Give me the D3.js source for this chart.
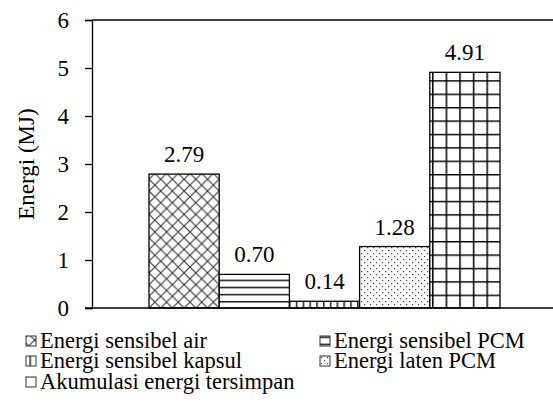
<!DOCTYPE html>
<html>
<head>
<meta charset="utf-8">
<script src="https://cdn.jsdelivr.net/npm/d3@7"></script>
<style>
  body { margin: 0; background: #fff; }
</style>
</head>
<body>
<div id="here"></div>
<script>
// DATA
const series = ["Energi sensibel air", "Energi sensibel PCM", "Energi sensibel kapsul", "Energi laten PCM", "Akumulasi energi tersimpan"];
const values = [2.79, 0.70, 0.14, 1.28, 4.91];
const labels = ["2.79", "0.70", "0.14", "1.28", "4.91"];
const yTicks = [0, 1, 2, 3, 4, 5, 6];
const patternIds = ["pDiamond", "pHoriz", "pVert", "pDots", "pGrid"];

const width = 553, height = 408;
const FONT = "'Liberation Serif'";

const svg = d3.select("#here").append("svg")
  .attr("width", width)
  .attr("height", height);

// Patterns
const defs = svg.append("defs");

let p = defs.append("pattern").attr("id", "pDiamond")
  .attr("patternUnits", "userSpaceOnUse").attr("width", 11.7).attr("height", 11.7)
  .attr("x", 149).attr("y", 308);
p.append("rect").attr("width", 11.7).attr("height", 11.7).attr("fill", "#fff");
p.append("path").attr("d", "M0,0L11.7,11.7M11.7,0L0,11.7")
  .attr("stroke", "#333").attr("stroke-width", 1.1);

p = defs.append("pattern").attr("id", "pHoriz")
  .attr("patternUnits", "userSpaceOnUse").attr("width", 8).attr("height", 7.1)
  .attr("y", 308);
p.append("rect").attr("width", 8).attr("height", 7.1).attr("fill", "#fff");
p.append("line").attr("x1", 0).attr("x2", 8).attr("y1", 0.8).attr("y2", 0.8)
  .attr("stroke", "#000").attr("stroke-width", 1.4);

p = defs.append("pattern").attr("id", "pVert")
  .attr("patternUnits", "userSpaceOnUse").attr("width", 6.8).attr("height", 8)
  .attr("x", 289);
p.append("rect").attr("width", 6.8).attr("height", 8).attr("fill", "#fff");
p.append("line").attr("x1", 0.8).attr("x2", 0.8).attr("y1", 0).attr("y2", 8)
  .attr("stroke", "#000").attr("stroke-width", 1.3);

p = defs.append("pattern").attr("id", "pDots")
  .attr("patternUnits", "userSpaceOnUse").attr("width", 6).attr("height", 6);
p.append("rect").attr("width", 6).attr("height", 6).attr("fill", "#fff");
p.append("rect").attr("x", 1).attr("y", 1).attr("width", 1.2).attr("height", 1.2).attr("fill", "#444");
p.append("rect").attr("x", 4).attr("y", 4).attr("width", 1.2).attr("height", 1.2).attr("fill", "#444");

p = defs.append("pattern").attr("id", "pGrid")
  .attr("patternUnits", "userSpaceOnUse").attr("width", 13.6).attr("height", 13.4)
  .attr("x", 432).attr("y", 308);
p.append("rect").attr("width", 13.6).attr("height", 13.4).attr("fill", "#fff");
p.append("path").attr("d", "M0.8,0V13.4M0,0.8H13.6")
  .attr("stroke", "#000").attr("stroke-width", 1.5);

// Scales
const y = d3.scaleLinear().domain([0, 6]).range([308, 20]);
const x = d3.scaleBand().domain(series).range([92, 557])
  .paddingInner(0).paddingOuter(0.812);

// Frame top line
svg.append("line")
  .attr("x1", 92).attr("x2", width)
  .attr("y1", y(6)).attr("y2", y(6))
  .attr("stroke", "#000").attr("stroke-width", 1.3);

// Bars
svg.selectAll("rect.bar")
  .data(values)
  .enter()
  .append("rect")
  .attr("class", "bar")
  .attr("x", function(d, i) { return x(series[i]); })
  .attr("y", function(d) { return y(d); })
  .attr("width", x.bandwidth())
  .attr("height", function(d) { return y(0) - y(d); })
  .attr("fill", function(d, i) { return "url(#" + patternIds[i] + ")"; })
  .attr("stroke", "#000")
  .attr("stroke-width", 1.3);

// Value labels
svg.selectAll("text.val")
  .data(values)
  .enter()
  .append("text")
  .attr("class", "val")
  .attr("x", function(d, i) { return x(series[i]) + x.bandwidth() / 2; })
  .attr("y", function(d) { return y(d) - 12; })
  .attr("text-anchor", "middle")
  .style("font-family", FONT)
  .style("font-size", "23px")
  .text(function(d, i) { return labels[i]; });

// Y axis
const yAxis = svg.append("g")
  .attr("transform", "translate(92,0)")
  .call(d3.axisLeft(y).tickValues(yTicks).tickSize(7).tickPadding(16).tickFormat(d3.format("d")));
yAxis.select(".domain").attr("stroke", "#000").attr("stroke-width", 1.3);
yAxis.selectAll(".tick line").attr("stroke", "#000").attr("stroke-width", 1.3);
yAxis.selectAll(".tick text")
  .style("font-family", FONT)
  .style("font-size", "23px")
  .attr("fill", "#000")
  .attr("dy", "0.34em");

// X axis line
svg.append("line")
  .attr("x1", 85).attr("x2", width)
  .attr("y1", y(0)).attr("y2", y(0))
  .attr("stroke", "#000").attr("stroke-width", 1.3);

// Y axis label
svg.append("text")
  .attr("transform", "translate(34," + ((y(0) + y(6)) / 2) + ") rotate(-90)")
  .attr("text-anchor", "middle")
  .style("font-family", FONT)
  .style("font-size", "23px")
  .text("Energi (MJ)");

// Legend
const legendPos = [[26, 348], [320, 348], [26, 368], [320, 368], [26, 389]];
const legend = svg.selectAll("g.legend")
  .data(series)
  .enter()
  .append("g")
  .attr("class", "legend")
  .attr("transform", function(d, i) { return "translate(" + legendPos[i][0] + "," + legendPos[i][1] + ")"; });

legend.append("rect")
  .attr("x", 0).attr("y", -12)
  .attr("width", 10).attr("height", 10)
  .attr("fill", function(d, i) { return "url(#" + patternIds[i] + ")"; })
  .attr("stroke", "#333")
  .attr("stroke-width", 1);

legend.append("text")
  .attr("x", 14)
  .attr("y", 0)
  .style("font-family", FONT)
  .style("font-size", "22.5px")
  .text(function(d) { return d; });
</script>
</body>
</html>
